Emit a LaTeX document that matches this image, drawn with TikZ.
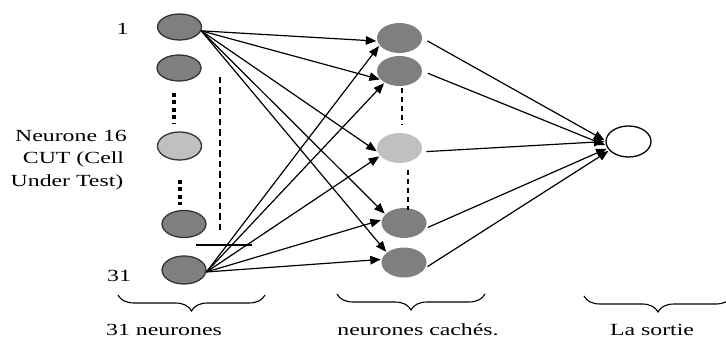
\documentclass[tikz,border=0pt]{standalone}
\usepackage{fontspec}
\setmainfont{Liberation Serif}[FakeStretch=1.4]
\usetikzlibrary{shapes.geometric,arrows.meta,decorations.pathreplacing}
\definecolor{darkn}{HTML}{7F7F7F}
\definecolor{lightn}{HTML}{C0C0C0}
\definecolor{rimn}{HTML}{333333}
\begin{document}
\begin{tikzpicture}[x=1pt,y=-1pt,
  font=\fontsize{17}{22.5}\selectfont,
  inneuron/.style={ellipse,draw=rimn,line width=1.3pt,minimum width=44pt,minimum height=26pt,inner sep=0pt},
  hidneuron/.style={ellipse,draw=none,minimum width=45pt,minimum height=30pt,inner sep=0pt},
  outneuron/.style={ellipse,draw=black,line width=1.3pt,fill=white,minimum width=45pt,minimum height=31pt,inner sep=0pt},
  conn/.style={line width=1.2pt,-{Triangle[length=10.5pt,width=8.5pt]},shorten >=1pt},
  bracestyle/.style={decorate,decoration={brace,mirror,amplitude=16pt},line width=1.1pt},
  lbl/.style={inner sep=0pt,anchor=base}
]
\useasboundingbox (0,0) rectangle (726,339);
% input layer
\node[inneuron,fill=darkn] (i1) at (179.5,27) {};
\node[inneuron,fill=darkn] (i2) at (179,68) {};
\node[inneuron,fill=lightn,minimum height=28pt] (i16) at (179.5,146) {};
\node[inneuron,fill=darkn,minimum height=27pt] (i30) at (184,224) {};
\node[inneuron,fill=darkn,minimum height=28pt] (i31) at (184,270) {};
% hidden layer
\node[hidneuron,fill=darkn] (h1) at (399.5,38) {};
\node[hidneuron,fill=darkn] (h2) at (399.5,71) {};
\node[hidneuron,fill=lightn] (h3) at (399.5,148) {};
\node[hidneuron,fill=darkn] (h4) at (404,223) {};
\node[hidneuron,fill=darkn] (h5) at (404,262.5) {};
% output
\node[outneuron] (o) at (628.5,141.5) {};
% dotted / dashed marks
\draw[line width=4pt,dash pattern=on 4pt off 3.5pt] (173.5,93) -- (173.5,124);
\draw[line width=4pt,dash pattern=on 4pt off 3.5pt] (180,180) -- (180,205);
\draw[line width=2.2pt,dash pattern=on 6.5pt off 4pt] (220,77) -- (220,233);
\draw[line width=1.1pt] (196,245) -- (252,245);
\draw[line width=1.5pt,dash pattern=on 5pt off 4pt] (402,88) -- (402,125);
\draw[line width=1.5pt,dash pattern=on 5pt off 4pt] (408,170) -- (408,210);
% labels
\node[lbl] (l1) at (122.5,35) {1};
\node[lbl] (l31) at (119,282) {31};
\node[lbl] (l16a) at (71,141.5) {Neurone 16};
\node[lbl] (l16b) at (73.5,163.5) {CUT (Cell};
\node[lbl] (l16c) at (67,186.5) {Under Test)};
% connections input -> hidden
\draw[conn] (i1.-10) -- (h1.188);
\draw[conn] (i1.-10) -- (h2.205);
\draw[conn] (i1.-10) -- (h3.190);
\draw[conn] (i1.-10) -- (h4.155);
\draw[conn] (i1.-10) -- (h5.150);
\draw[conn] (i31.-5) -- (h1.200);
\draw[conn] (i31.-5) -- (h2.218);
\draw[conn] (i31.-5) -- (h3.202);
\draw[conn] (i31.-5) -- (h4.172);
\draw[conn] (i31.-5) -- (h5.172);
% hidden -> output
\draw[conn,shorten <=6pt] (h1.east) -- (o.178);
\draw[conn,shorten <=6pt] (h2.east) -- (o.190);
\draw[conn,shorten <=5pt] (h3.-10) -- (o.180);
\draw[conn,shorten <=3pt] (h4.-15) -- (o.198);
\draw[conn,shorten <=3pt] (h5.-15) -- (o.205);
% braces
\draw[bracestyle] (118,295) -- (265,295);
\draw[bracestyle] (337,294) -- (485,294);
\draw[bracestyle] (584,296) -- (732,296);
\node[lbl] (t1) at (164,335) {31 neurones};
\node[lbl] (t2) at (418,335) {neurones cachés.};
\node[lbl] (t3) at (652,335.5) {La sortie};
\end{tikzpicture}
\end{document}
